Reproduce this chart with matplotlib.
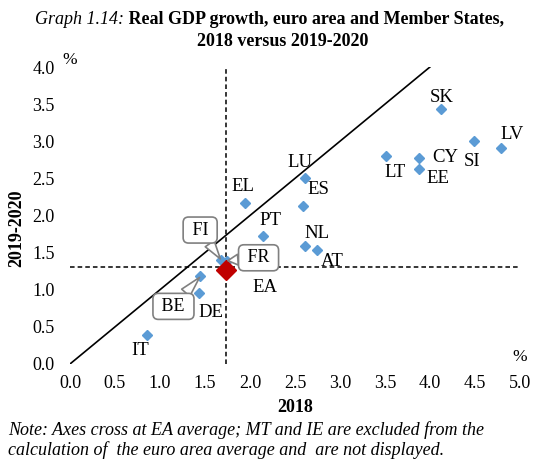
import matplotlib.pyplot as plt

plt.rcParams['font.family'] = ['Liberation Serif', 'DejaVu Serif']

# Member States: growth in 2018 vs average 2019-2020 (%)
countries = ['IT', 'DE', 'BE', 'FI', 'FR', 'EL', 'PT', 'ES', 'LU', 'NL', 'AT',
             'LT', 'CY', 'EE', 'SK', 'SI', 'LV']
gdp_2018 = [0.86, 1.43, 1.45, 1.68, 1.74, 1.94, 2.15, 2.59, 2.61, 2.61, 2.75,
            3.51, 3.88, 3.88, 4.12, 4.49, 4.79]
gdp_1920 = [0.39, 0.95, 1.18, 1.40, 1.39, 2.17, 1.72, 2.13, 2.51, 1.59, 1.54,
            2.80, 2.78, 2.62, 3.43, 3.00, 2.91]

ea_2018, ea_1920 = 1.73, 1.27      # euro area average
cross_x, cross_y = 1.73, 1.31      # where the dashed axes cross

x_ticks = [0.0, 0.5, 1.0, 1.5, 2.0, 2.5, 3.0, 3.5, 4.0, 4.5, 5.0]
y_ticks = [0.0, 0.5, 1.0, 1.5, 2.0, 2.5, 3.0, 3.5, 4.0]

# label offsets in pixels (plain text labels)
label_offsets = {
    'EL': (-2, 16), 'LU': (-5, 15), 'ES': (15, 16), 'PT': (7, 16),
    'NL': (12, 12), 'AT': (15, -12), 'DE': (12, -19), 'IT': (-7, -15),
    'SK': (1, 12), 'LT': (9, -16), 'CY': (26, 0), 'EE': (19, -9),
    'SI': (-2, -20), 'LV': (11, 13),
}
# callout boxes (offset in pixels)
callouts = {'FI': (-21, 30), 'FR': (32, 3), 'BE': (-27, -30)}

fig = plt.figure(figsize=(5.35, 4.59), dpi=100)
ax = fig.add_axes([0.1308, 0.207, 0.841, 0.647])

ax.plot([0, 4], [0, 4], color='black', lw=1.2, zorder=1)
ax.axvline(cross_x, color='black', ls=(0, (3, 2)), lw=1.1, zorder=1)
ax.axhline(cross_y, color='black', ls=(0, (3, 2)), lw=1.1, zorder=1)

ax.plot(gdp_2018, gdp_1920, ls='none', marker='D', ms=4.6,
        color='#5B9BD5', mec='#5B9BD5', zorder=3)
ax.plot([ea_2018], [ea_1920], ls='none', marker='D', ms=10,
        color='#C00000', zorder=4)
ax.annotate('EA', (ea_2018, ea_1920), xytext=(39, -18),
            textcoords='offset pixels', ha='center', va='center', fontsize=13.5)

for c, x, y in zip(countries, gdp_2018, gdp_1920):
    if c in label_offsets:
        ax.annotate(c, (x, y), xytext=label_offsets[c], textcoords='offset pixels',
                    ha='center', va='center', fontsize=13.5)
    else:
        ax.annotate(f' {c} ', (x, y), xytext=callouts[c], textcoords='offset pixels',
                    ha='center', va='center', fontsize=13,
                    bbox=dict(boxstyle='round,pad=0.25,rounding_size=0.3', fc='white',
                              ec='#808080', lw=1.2),
                    arrowprops=dict(arrowstyle='wedge,tail_width=0.6', fc='white',
                                    ec='#808080', lw=1.2, shrinkA=0, shrinkB=1),
                    zorder=5)

ax.set_xlim(0, 5)
ax.set_ylim(0, 4)
ax.set_xticks(x_ticks)
ax.set_yticks(y_ticks)
ax.set_xticklabels([f'{v:.1f}' for v in x_ticks], fontsize=13)
ax.set_yticklabels([f'{v:.1f}' for v in y_ticks], fontsize=13)
ax.tick_params(axis='x', length=0, pad=8)
ax.tick_params(axis='y', length=0, pad=11)
for s in ax.spines.values():
    s.set_visible(False)

ax.set_xlabel('2018', fontsize=13, fontweight='bold', labelpad=5)
ax.set_ylabel('2019-2020', fontsize=13, fontweight='bold')
ax.yaxis.set_label_coords(-0.1, 0.458)

fig.text(70 / 535, 1 - 60 / 459, '%', fontsize=12.5, ha='center', va='center')
fig.text(520 / 535, 1 - 357 / 459, '%', fontsize=12.5, ha='center', va='center')

t1 = fig.text(35 / 535, 1 - 20 / 459, 'Graph 1.14:', fontsize=13, style='italic',
              ha='left', va='center')
ax.annotate(' Real GDP growth, euro area and Member States,',
            xy=(1, 0.5), xycoords=t1, ha='left', va='center',
            fontsize=13, fontweight='bold', annotation_clip=False)
fig.text(0.529, 1 - 41 / 459, '2018 versus 2019-2020', fontsize=13,
         fontweight='bold', ha='center', va='center')

fig.text(8 / 535, 1 - 430 / 459,
         'Note: Axes cross at EA average; MT and IE are excluded from the',
         fontsize=13, style='italic', ha='left', va='center')
fig.text(8 / 535, 1 - 450 / 459,
         'calculation of  the euro area average and  are not displayed.',
         fontsize=13, style='italic', ha='left', va='center')

fig.savefig('out.png', dpi=100)
